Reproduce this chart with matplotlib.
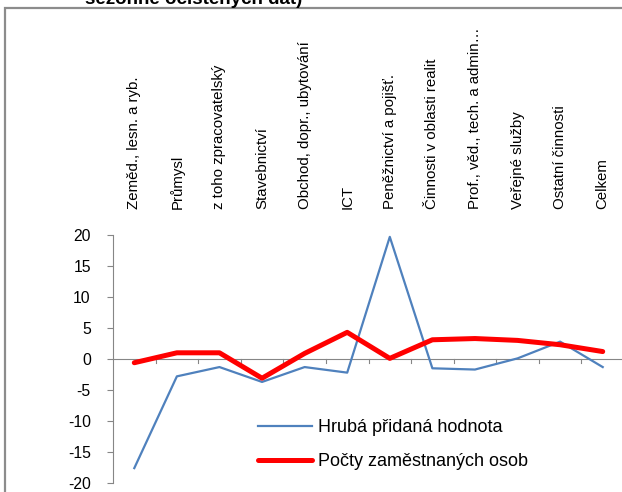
import matplotlib
matplotlib.use("Agg")
import matplotlib.pyplot as plt
from matplotlib.patches import Rectangle
from matplotlib.transforms import blended_transform_factory

categories = [
    "Zeměd., lesn. a ryb.",
    "Průmysl",
    "z toho zpracovatelský",
    "Stavebnictví",
    "Obchod, dopr., ubytování",
    "ICT",
    "Peněžnictví a pojišť.",
    "Činnosti v oblasti realit",
    "Prof., věd., tech. a admin…",
    "Veřejné služby",
    "Ostatní činnosti",
    "Celkem",
]
hph = [-17.6, -2.8, -1.3, -3.7, -1.3, -2.2, 19.7, -1.5, -1.7, 0.1, 2.8, -1.3]
zam = [-0.6, 1.0, 1.0, -3.1, 0.9, 4.3, 0.1, 3.1, 3.3, 3.0, 2.3, 1.2]
series_names = ["Hrubá přidaná hodnota", "Počty zaměstnaných osob"]
yticks = [-20, -15, -10, -5, 0, 5, 10, 15, 20]
title_text = "sezónně očištěných dat)"

plt.rcParams['font.family'] = ['Liberation Sans', 'DejaVu Sans']

W, H = 622, 492
fig = plt.figure(figsize=(W / 100, H / 100), dpi=100)

# outer frame
fig.patches.append(Rectangle((5 / W, -0.1), 1.2, 1 - 8 / H + 0.1,
                             transform=fig.transFigure, fill=False,
                             edgecolor="#8c8c8c", linewidth=1.6))
fig.text(85 / W, 1 - 4 / H, title_text, fontsize=13.5, fontweight="bold",
         ha="left", va="baseline", color="black")

left, right, top, bottom = 113, 624, 235, 483
ax = fig.add_axes([left / W, (H - bottom) / H, (right - left) / W, (bottom - top) / H])

x = list(range(len(categories)))
ax.plot(x, hph, color="#4F81BD", linewidth=1.6, label=series_names[0], zorder=3)
ax.plot(x, zam, color="#FF0000", linewidth=3.6, solid_capstyle="round",
        solid_joinstyle="round", label=series_names[1], zorder=4)

ax.set_xlim(-0.5, len(categories) - 0.5)
ax.set_ylim(-20, 20)
ax.set_yticks(yticks)
ax.set_yticklabels([str(v) for v in yticks], fontsize=11.3, color="black")
ax.tick_params(axis="y", direction="out", length=4, width=0.8, color="#868686", pad=12)

for s in ["top", "right", "bottom"]:
    ax.spines[s].set_visible(False)
ax.spines["left"].set_color("#868686")
ax.spines["left"].set_linewidth(0.8)

ax.axhline(0, color="#868686", linewidth=0.8, zorder=2)
ax.set_xticks([])
for b in range(1, len(categories)):
    ax.plot([b - 0.5, b - 0.5], [0, -0.7], color="#868686", linewidth=0.8,
            zorder=2, clip_on=False)

ltrans = blended_transform_factory(ax.transData, ax.transAxes)
for i, c in enumerate(categories):
    ax.text(i, 1.105, c, rotation=90, ha="center", va="bottom", fontsize=10.8,
            transform=ltrans, color="black")

ax.legend(loc="center left", bbox_to_anchor=(0.284, 0.155), frameon=False,
          fontsize=13, handlelength=3.0, handletextpad=0.3, labelspacing=0.95,
          borderpad=0, borderaxespad=0)

fig.savefig("out.png", dpi=100)
